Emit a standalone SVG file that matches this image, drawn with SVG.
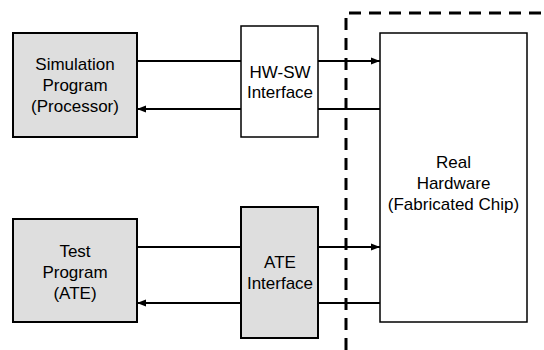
<svg xmlns="http://www.w3.org/2000/svg" width="544" height="350" viewBox="0 0 544 350">
<defs>
<marker id="ah" viewBox="0 0 10 10" refX="10" refY="5" markerWidth="9" markerHeight="9" markerUnits="userSpaceOnUse" orient="auto">
<path d="M0,1 L10,5 L0,9 z" fill="#000"/>
</marker>
<style>
.box{stroke:#000;stroke-width:2}
.gray{fill:#dedede}
.white{fill:#fff}
.t{font-family:"Liberation Sans",Arial,sans-serif;font-size:17px;fill:#000;text-anchor:middle}
.c{stroke:#000;stroke-width:2;fill:none}
.dash{stroke:#000;stroke-width:3;fill:none;stroke-dasharray:12 8}
</style>
</defs>
<rect width="544" height="350" fill="#fff"/>
<g id="boundary">
<path class="dash" d="M346,350 V13 H544"/>
</g>
<g id="sim">
<rect class="box gray" x="13" y="33" width="124" height="104"/>
<text class="t" x="75" y="70">Simulation</text>
<text class="t" x="75" y="91">Program</text>
<text class="t" x="75" y="112">(Processor)</text>
</g>
<g id="hwsw">
<rect class="box white" x="241" y="26" width="77" height="111" style="stroke-width:1.5"/>
<text class="t" x="280" y="78">HW-SW</text>
<text class="t" x="280" y="98">Interface</text>
</g>
<g id="real">
<rect class="box white" x="380" y="33" width="147" height="289" style="stroke-width:1.5"/>
<text class="t" x="453.5" y="168">Real</text>
<text class="t" x="453.5" y="189">Hardware</text>
<text class="t" x="453.5" y="210">(Fabricated Chip)</text>
</g>
<g id="test">
<rect class="box gray" x="13" y="219" width="124" height="103"/>
<text class="t" x="75" y="257">Test</text>
<text class="t" x="75" y="278">Program</text>
<text class="t" x="75" y="299">(ATE)</text>
</g>
<g id="ate">
<rect class="box gray" x="241" y="207" width="77" height="131"/>
<text class="t" x="280" y="268">ATE</text>
<text class="t" x="280" y="289">Interface</text>
</g>
<g id="connectors">
<path class="c" d="M137,61 H241"/>
<path class="c" d="M318,61 H380" marker-end="url(#ah)"/>
<path class="c" d="M380,109 H318"/>
<path class="c" d="M241,109 H137" marker-end="url(#ah)"/>
<path class="c" d="M137,247 H241"/>
<path class="c" d="M318,247 H380" marker-end="url(#ah)"/>
<path class="c" d="M380,303 H318"/>
<path class="c" d="M241,303 H137" marker-end="url(#ah)"/>
</g>
</svg>
